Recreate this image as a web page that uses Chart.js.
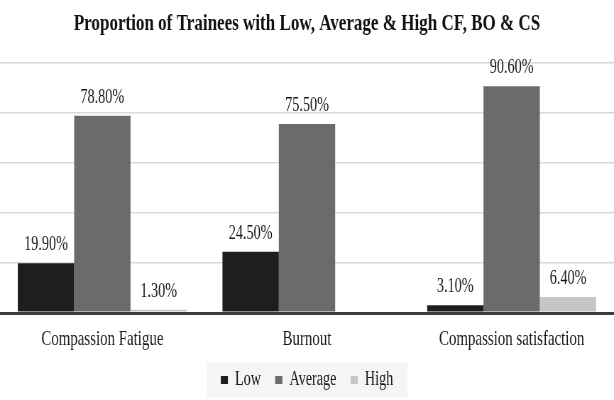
<!DOCTYPE html>
<html>
<head>
<meta charset="utf-8">
<script src="https://cdn.jsdelivr.net/npm/chart.js@4/dist/chart.umd.min.js"></script>
<style>
html, body { margin: 0; padding: 0; background: #fff; overflow: hidden; }
#wrap { width: 865px; height: 400px; transform: scaleX(0.7098); transform-origin: 0 0; }
</style>
</head>
<body>
<div id="wrap"><canvas id="myChart" width="865" height="400"></canvas></div>
<script>
var titleText = 'Proportion of Trainees with Low, Average & High CF, BO & CS';
var categories = ['Compassion Fatigue', 'Burnout', 'Compassion satisfaction'];
var seriesNames = ['Low', 'Average', 'High'];
var low = [19.9, 24.5, 3.1];
var average = [78.8, 75.5, 90.6];
var high = [1.3, null, 6.4];
var yTicks = [0, 20, 40, 60, 80, 100];

var serif = '"Liberation Serif", "Times New Roman", serif';

// percent labels above each bar
var valueLabels = {
    id: 'valueLabels',
    afterDatasetsDraw: function(chart) {
        var ctx = chart.ctx;
        ctx.save();
        ctx.font = '20px ' + serif;
        ctx.fillStyle = '#1a1a1a';
        ctx.textAlign = 'center';
        ctx.textBaseline = 'alphabetic';
        chart.data.datasets.forEach(function(ds, i) {
            chart.getDatasetMeta(i).data.forEach(function(bar, j) {
                if (ds.data[j] === null) return;
                ctx.fillText(ds.data[j].toFixed(2) + '%', bar.x, bar.y - 13);
            });
        });
        ctx.restore();
    }
};

// light grey panel behind the legend
var legendPanel = {
    id: 'legendPanel',
    beforeDraw: function(chart) {
        var boxes = chart.legend.legendHitBoxes;
        if (!boxes || !boxes.length) return;
        var l = Infinity, r = -Infinity, mid = 0;
        boxes.forEach(function(b) {
            l = Math.min(l, b.left);
            r = Math.max(r, b.left + b.width);
            mid = b.top + b.height / 2;
        });
        var ctx = chart.ctx;
        ctx.save();
        ctx.fillStyle = '#f5f5f5';
        ctx.fillRect(l - 20, mid - 17.5, r - l + 40, 35);
        ctx.restore();
    }
};

function main() {
    var ctx = document.getElementById('myChart').getContext('2d');
    var colors = ['#1e1e1e', '#6b6b6b', '#c6c6c6'];
    var values = [low, average, high];

    var data = {
        labels: categories,
        datasets: seriesNames.map(function(name, i) {
            return {
                label: name,
                data: values[i],
                backgroundColor: colors[i],
                borderWidth: 0,
                categoryPercentage: 0.826,
                barPercentage: 1.0
            };
        })
    };

    var config = {
        type: 'bar',
        data: data,
        options: {
            responsive: false,
            animation: false,
            layout: {padding: {left: 0, right: 0, top: 0, bottom: 0}},
            scales: {
                x: {
                    grid: {display: false, drawTicks: false},
                    border: {display: false},
                    ticks: {
                        padding: 14,
                        color: '#1a1a1a',
                        font: {family: serif, size: 21}
                    },
                    afterFit: function(s) { s.height = 37; }
                },
                y: {
                    min: 0,
                    max: 100,
                    afterBuildTicks: function(s) {
                        s.ticks = yTicks.map(function(v) { return {value: v}; });
                    },
                    ticks: {display: false},
                    border: {display: false},
                    grid: {
                        drawTicks: false,
                        color: function(c) { return c.tick.value === 0 ? '#3c3c3c' : '#d9d9d9'; },
                        lineWidth: function(c) { return c.tick.value === 0 ? 3 : 1.5; }
                    }
                }
            },
            plugins: {
                title: {
                    display: true,
                    text: titleText,
                    color: '#111',
                    font: {family: serif, size: 24, weight: 'bold'},
                    padding: {top: 9, bottom: 25}
                },
                legend: {
                    position: 'bottom',
                    labels: {
                        color: '#1a1a1a',
                        font: {family: serif, size: 20},
                        boxWidth: 10,
                        boxHeight: 8,
                        padding: 20
                    }
                },
                tooltip: {enabled: false}
            }
        },
        plugins: [legendPanel, valueLabels]
    };

    window.myChart = new Chart(ctx, config);
}

main();
</script>
</body>
</html>
